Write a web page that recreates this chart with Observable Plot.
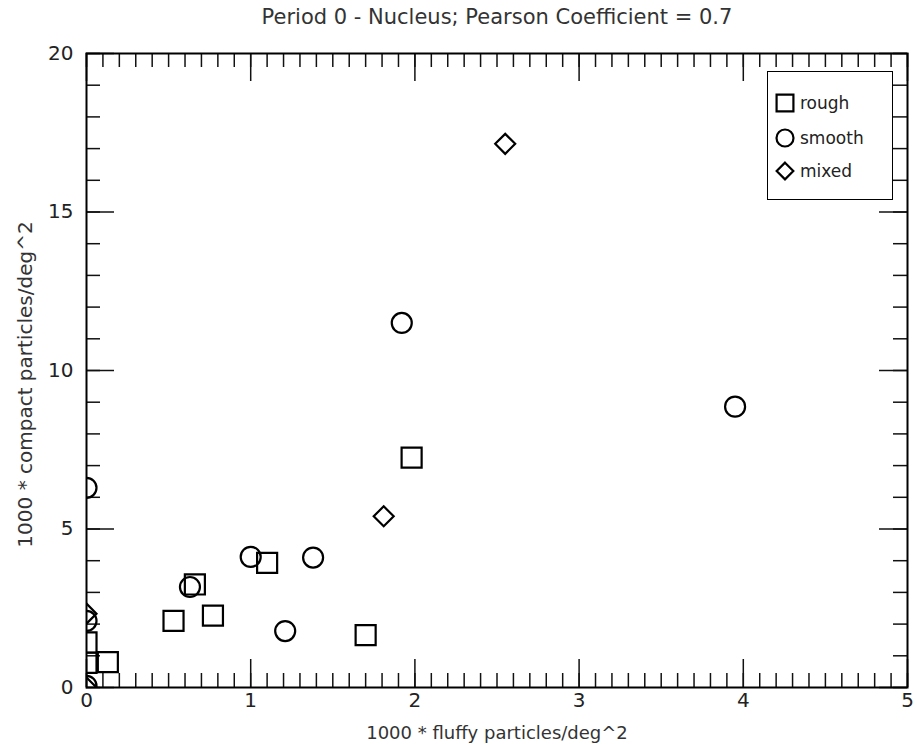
<!DOCTYPE html>
<html>
<head>
<meta charset="utf-8">
<script src="https://cdn.jsdelivr.net/npm/d3@7"></script>
<script src="https://cdn.jsdelivr.net/npm/@observablehq/plot@0.6"></script>
<style>
  html, body { margin: 0; padding: 0; background: #fff; }
  #wrap { position: relative; width: 917px; height: 744px; font-family: "DejaVu Sans", sans-serif; }
  #legend { position: absolute; background: #fff; border: 1.5px solid #000; box-sizing: border-box; }
  .row { position: absolute; display: flex; align-items: center; font-size: 17px; color: #222; }
</style>
</head>
<body>
<div id="wrap"></div>
<script>
// ---- data ----
const titleText = "Period 0 - Nucleus; Pearson Coefficient = 0.7";
const xLabel = "1000 * fluffy particles/deg^2";
const yLabel = "1000 * compact particles/deg^2";

const roughX = [1.98, 1.70, 1.10, 0.66, 0.53, 0.77, 0.13, 0, 0];
const roughY = [7.25, 1.65, 3.93, 3.25, 2.10, 2.27, 0.80, 1.42, 0.78];

const smoothX = [3.95, 1.92, 1.38, 1.00, 1.21, 0.63, 0, 0, 0];
const smoothY = [8.86, 11.50, 4.10, 4.12, 1.78, 3.17, 6.30, 2.10, 0.05];

const mixedX = [2.55, 1.81, 0, 0];
const mixedY = [17.15, 5.40, 2.33, 0];

const seriesNames = ["rough", "smooth", "mixed"];
const seriesSymbols = ["square", "circle", "diamond2"];

const xMajorTicks = [0, 1, 2, 3, 4, 5];
const yMajorTicks = [0, 5, 10, 15, 20];
const xMinorTicks = d3.range(0, 5.0001, 0.1).map(v => +v.toFixed(1));
const yMinorTicks = d3.range(0, 20.0001, 1);

// ---- layout ----
const W = 917, H = 744;
const mT = 53, mR = 10, mB = 57, mL = 86;
const pW = W - mL - mR, pH = H - mT - mB;
const minorLen = 14, majorLen = 28;
const tickColor = "#111";

const toPts = (xs, ys) => xs.map((x, i) => ({x, y: ys[i]}));
const rough = toPts(roughX, roughY);
const smooth = toPts(smoothX, smoothY);
const mixed = toPts(mixedX, mixedY);

const chart = Plot.plot({
  width: W, height: H,
  marginTop: mT, marginRight: mR, marginBottom: mB, marginLeft: mL,
  style: {fontFamily: "DejaVu Sans, sans-serif", background: "#fff", color: "#222"},
  x: {domain: [0, 5]},
  y: {domain: [0, 20]},
  marks: [
    Plot.ruleX(xMinorTicks, {x: d => d, insetTop: pH - minorLen, stroke: tickColor, strokeWidth: 1.5}),
    Plot.ruleX(xMinorTicks, {x: d => d, insetBottom: pH - minorLen, stroke: tickColor, strokeWidth: 1.5}),
    Plot.ruleX(xMajorTicks, {x: d => d, insetTop: pH - majorLen, stroke: tickColor, strokeWidth: 1.5}),
    Plot.ruleX(xMajorTicks, {x: d => d, insetBottom: pH - majorLen, stroke: tickColor, strokeWidth: 1.5}),
    Plot.ruleY(yMinorTicks, {y: d => d, insetRight: pW - minorLen, stroke: tickColor, strokeWidth: 1.5}),
    Plot.ruleY(yMinorTicks, {y: d => d, insetLeft: pW - minorLen, stroke: tickColor, strokeWidth: 1.5}),
    Plot.ruleY(yMajorTicks, {y: d => d, insetRight: pW - majorLen, stroke: tickColor, strokeWidth: 1.5}),
    Plot.ruleY(yMajorTicks, {y: d => d, insetLeft: pW - majorLen, stroke: tickColor, strokeWidth: 1.5}),
    Plot.axisX({ticks: xMajorTicks, tickSize: 0, tickPadding: 5, fontSize: 20, label: null, tickFormat: d => String(d)}),
    Plot.axisY({ticks: yMajorTicks, tickSize: 0, tickPadding: 13, fontSize: 20, label: null, tickFormat: d => String(d)}),
    Plot.frame({stroke: "#000", strokeWidth: 2}),
    Plot.dot(rough, {x: "x", y: "y", symbol: () => seriesSymbols[0], r: 11.3, stroke: "#000", strokeWidth: 2.2, fill: "none", clip: true}),
    Plot.dot(smooth, {x: "x", y: "y", symbol: () => seriesSymbols[1], r: 10, stroke: "#000", strokeWidth: 2.2, fill: "none", clip: true}),
    Plot.dot(mixed, {x: "x", y: "y", symbol: () => seriesSymbols[2], r: 9, stroke: "#000", strokeWidth: 2.2, fill: "none", clip: true}),
    Plot.text([titleText], {text: d => d, frameAnchor: "top", dy: -36, lineAnchor: "middle", textAnchor: "middle", fontSize: 21, fill: "#333"}),
    Plot.text([xLabel], {text: d => d, frameAnchor: "bottom", dy: 46, lineAnchor: "middle", textAnchor: "middle", fontSize: 18, fill: "#333"}),
    Plot.text([yLabel], {text: d => d, frameAnchor: "left", dx: -61, dy: 14, rotate: -90, lineAnchor: "middle", textAnchor: "middle", fontSize: 20, fill: "#333"})
  ]
});

const wrap = document.getElementById("wrap");
wrap.appendChild(chart);

// ---- legend ----
const legend = document.createElement("div");
legend.id = "legend";
Object.assign(legend.style, {left: "767px", top: "71px", width: "126px", height: "129px"});
const rowTops = [20, 55, 88];
const symSizes = [Math.PI * 9.5 * 9.5, Math.PI * 8.5 * 8.5, Math.PI * 7.5 * 7.5];
seriesNames.forEach((name, i) => {
  const row = document.createElement("div");
  row.className = "row";
  row.style.left = "6px";
  row.style.top = rowTops[i] + "px";
  const svg = d3.create("svg").attr("width", 22).attr("height", 22).style("margin-right", "4px");
  const symType = [d3.symbolSquare, d3.symbolCircle, d3.symbolDiamond2][i];
  svg.append("path")
    .attr("transform", "translate(11,11)")
    .attr("d", d3.symbol(symType, symSizes[i])())
    .attr("fill", "none").attr("stroke", "#000").attr("stroke-width", 2.2);
  row.appendChild(svg.node());
  const span = document.createElement("span");
  span.textContent = name;
  row.appendChild(span);
  legend.appendChild(row);
});
wrap.appendChild(legend);
</script>
</body>
</html>
